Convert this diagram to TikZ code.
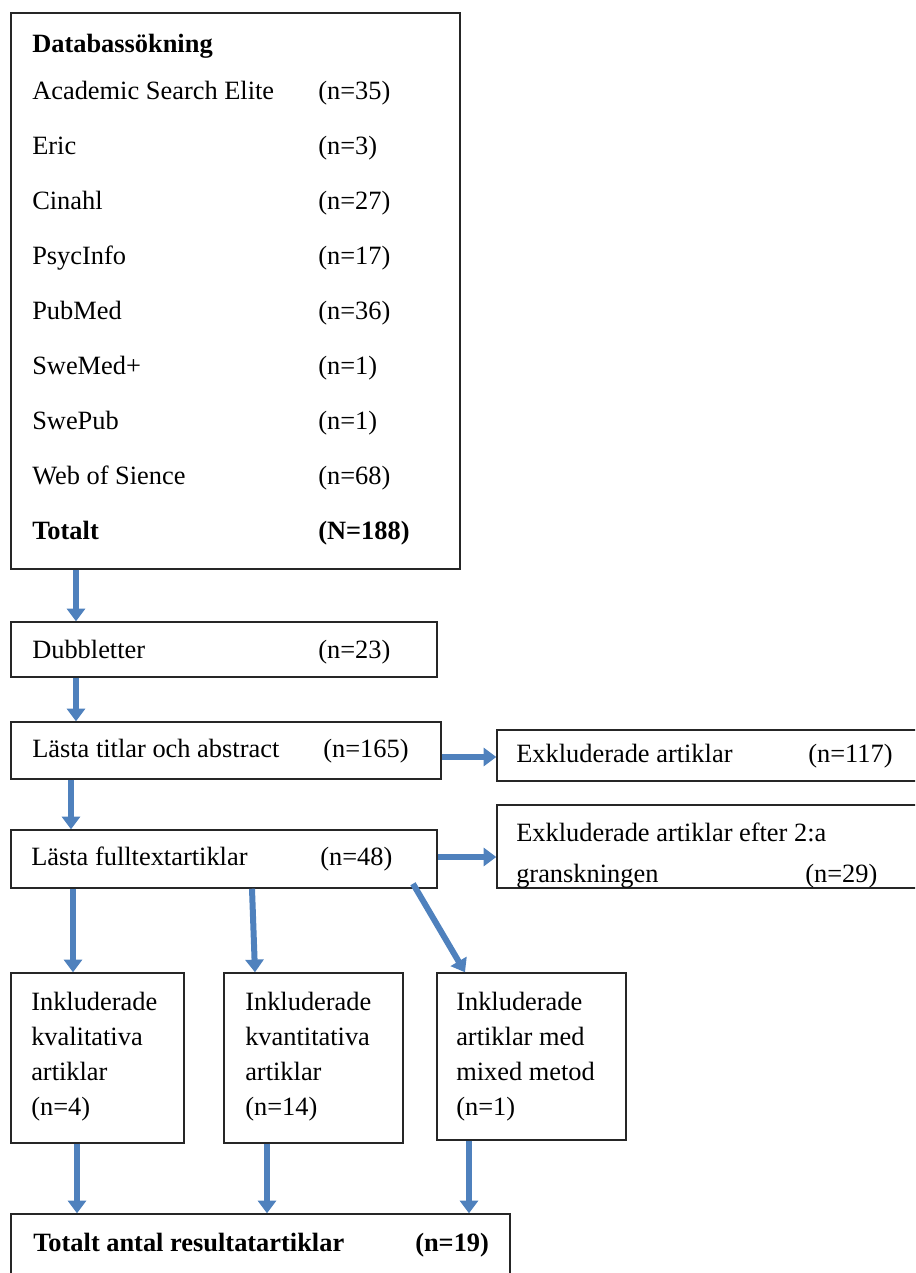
\documentclass[tikz,border=0pt]{standalone}
\usepackage{fontspec}
\setmainfont{Liberation Serif}
\usetikzlibrary{arrows.meta,fit}
\definecolor{flowblue}{HTML}{4F81BD}
\tikzset{
  box/.style={draw=black!85,line width=1.1pt,inner sep=0pt},
  lbl/.style={anchor=base west,inner sep=0pt,font=\fontsize{19.8}{24}\selectfont},
  bold/.style={lbl,font=\fontsize{19.8}{24}\selectfont\bfseries},
  flow/.style={flowblue,line width=4.5pt,-{Triangle[length=9.5pt,width=13.5pt]}},
}

\begin{document}
\begin{tikzpicture}[x=0.75pt,y=-0.75pt]
\useasboundingbox (0,0) rectangle (915,1273);
\clip (0,0) rectangle (915,1273);
% search box
\node[box,fit={(11,13) (460,569)}] (search) {};
\node[bold] (dbhead) at (32,53) {Databassökning};
\foreach \db/\n [count=\i] in {Academic Search Elite/35,Eric/3,Cinahl/27,PsycInfo/17,PubMed/36,SweMed+/1,SwePub/1,Web of Sience/68} {
  \node[lbl] (db\i) at (32,{100+54.9*(\i-1)}) {\db};
  \node[lbl] (dbn\i) at (318,{100+54.9*(\i-1)}) {(n=\n)};
}
\node[bold] (total) at (32,539) {Totalt};
\node[bold] (totaln) at (318,539) {(N=188)};
% screening boxes
\node[box,fit={(11,622) (437,677)}] (dub) {};
\node[lbl] (dubt) at (32,658) {Dubbletter};
\node[lbl] (dubn) at (318,658) {(n=23)};
\node[box,fit={(11,722) (441,779)}] (titles) {};
\node[lbl] (titlest) at (32,757) {Lästa titlar och abstract};
\node[lbl] (titlesn) at (323,757) {(n=165)};
\node[box,fit={(497,730) (960,781)}] (excl) {};
\node[lbl] (exclt) at (516,762) {Exkluderade artiklar};
\node[lbl] (excln) at (808,762) {(n=117)};
\node[box,fit={(11,830) (437,888)}] (fulltext) {};
\node[lbl] (fulltextt) at (31,865) {Lästa fulltextartiklar};
\node[lbl] (fulltextn) at (320,865) {(n=48)};
\node[box,fit={(497,805) (960,888)}] (exclb) {};
\begin{scope}
\clip (exclb.north west) rectangle (exclb.south east);
\node[lbl] (exclbt) at (516,841) {Exkluderade artiklar efter 2:a};
\node[lbl] (exclbu) at (516,882) {granskningen};
\node[lbl] (exclbn) at (805,882) {(n=29)};
\end{scope}
% included boxes
\node[box,fit={(11,973) (184,1143)}] (qual) {};
\node[box,fit={(224,973) (403,1143)}] (quant) {};
\node[box,fit={(437,973) (626,1140)}] (mixed) {};
\foreach \bx/\x/\ta/\tb/\tc/\n in {qual/31/Inkluderade/kvalitativa/artiklar/4,quant/245/Inkluderade/kvantitativa/artiklar/14,mixed/456/Inkluderade/artiklar med/mixed metod/1} {
  \node[lbl] (\bx-a) at (\x,1010) {\ta};
  \node[lbl] (\bx-b) at (\x,1045) {\tb};
  \node[lbl] (\bx-c) at (\x,1080) {\tc};
  \node[lbl] (\bx-n) at (\x,1115) {(n=\n)};
}
\node[box,fit={(11,1214) (510,1300)}] (result) {};
\node[bold] (resultt) at (33,1251) {Totalt antal resultatartiklar};
\node[bold] (resultn) at (415,1251) {(n=19)};
% arrows
\draw[flow] (search.south -| 76,0) -- (dub.north -| 76,0);
\draw[flow] (dub.south -| 76,0) -- (titles.north -| 76,0);
\draw[flow] (titles.east |- 0,757) -- (excl.west |- 0,757);
\draw[flow] (titles.south -| 71,0) -- (fulltext.north -| 71,0);
\draw[flow] (fulltext.east |- 0,857) -- (exclb.west |- 0,857);
\draw[flow] (fulltext.south -| 73,0) -- (qual.north -| 73,0);
\draw[flow] (fulltext.south -| 252,0) -- (quant.north -| 255,0);
\draw[flow] ([yshift=3.75pt]fulltext.south -| 413,0) -- (mixed.north -| 465,0);
\draw[flow] (qual.south -| 77,0) -- (result.north -| 77,0);
\draw[flow] (quant.south -| 267,0) -- (result.north -| 267,0);
\draw[flow] (mixed.south -| 469,0) -- (result.north -| 469,0);
\end{tikzpicture}
\end{document}
